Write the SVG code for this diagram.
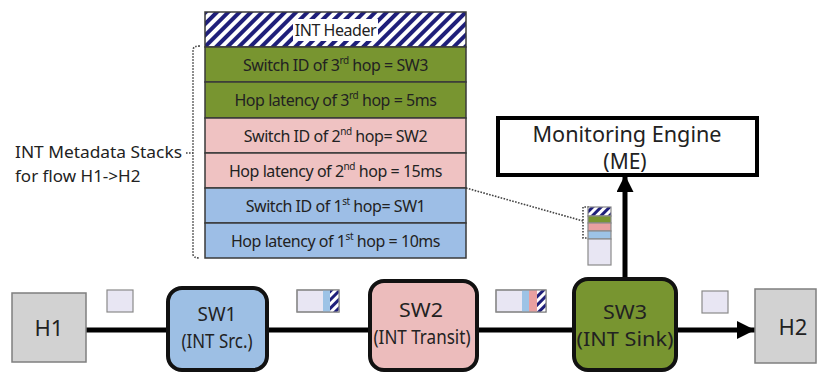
<svg xmlns="http://www.w3.org/2000/svg" width="818" height="372" viewBox="0 0 818 372">
<defs>
<pattern id="hatch" width="8" height="8" patternUnits="userSpaceOnUse" patternTransform="rotate(45)">
<rect width="8" height="8" fill="#ffffff"/>
<rect width="4" height="8" fill="#1f1f7a"/>
</pattern>
<pattern id="hatchS" width="6" height="6" patternUnits="userSpaceOnUse" patternTransform="rotate(45)">
<rect width="6" height="6" fill="#ffffff"/>
<rect width="3" height="6" fill="#1f1f7a"/>
</pattern>
<marker id="arr" viewBox="0 0 10 10" refX="10" refY="5" markerWidth="3.6" markerHeight="3.6" markerUnits="strokeWidth" orient="auto">
<path d="M0,0 L10,5 L0,10 z" fill="#000"/>
</marker>
<marker id="arrUp" viewBox="0 0 10 10" refX="10" refY="5" markerWidth="3.6" markerHeight="3.4" markerUnits="strokeWidth" orient="auto">
<path d="M0,0 L10,5 L0,10 z" fill="#000"/>
</marker>
</defs>
<style>
.t{font-family:"Noto Sans","Open Sans","DejaVu Sans",sans-serif;fill:#222;}
.row{font-size:16px;text-anchor:middle;letter-spacing:-0.45px;}
.sup{font-size:10px;}
.node{stroke:#111;stroke-width:4;}
.host{fill:#d2d2d2;stroke:#7f7f7f;stroke-width:1.5;}
.pk{stroke:#8a8a8a;stroke-width:1.2;}
.cell{stroke:#3a3a3a;stroke-width:1.5;}
.dot{fill:none;stroke:#444;stroke-width:1.6;stroke-dasharray:1.6 1.4;}
.link{stroke:#000;stroke-width:5;fill:none;}
.lab{font-size:22px;text-anchor:middle;}
.nl{font-size:19.5px;text-anchor:middle;}
</style>
<rect width="818" height="372" fill="#ffffff"/>

<g id="connectors">
<line class="link" x1="86" y1="330" x2="168" y2="330"/>
<line class="link" x1="267" y1="330" x2="370" y2="330"/>
<line class="link" x1="477" y1="330" x2="574" y2="330"/>
<line class="link" x1="676" y1="330" x2="755" y2="330" marker-end="url(#arr)"/>
<line class="link" x1="625" y1="279" x2="625" y2="175" marker-end="url(#arrUp)"/>
<path class="dot" d="M200,46 Q193,46 193,50 L193,254 Q193,258 200,258"/>
<line class="dot" x1="186" y1="153" x2="193" y2="153"/>
<path class="dot" d="M466,188 L583,221"/>
<path class="dot" d="M589,207 L583,207 L583,238 L589,238"/>
</g>

<g id="int-stack">
<rect x="205" y="12" width="261" height="35" fill="url(#hatch)" class="cell"/>
<rect x="293" y="19" width="85" height="22" fill="#ffffff"/>
<text class="t row" x="335.5" y="36">INT Header</text>
<rect x="205" y="47" width="261" height="35" fill="#789530" class="cell"/>
<text class="t row" x="335.5" y="71">Switch ID of 3<tspan class="sup" dy="-7">rd</tspan><tspan dy="7"> hop = SW3</tspan></text>
<rect x="205" y="82" width="261" height="36" fill="#789530" class="cell"/>
<text class="t row" x="335.5" y="106">Hop latency of 3<tspan class="sup" dy="-7">rd</tspan><tspan dy="7"> hop = 5ms</tspan></text>
<rect x="205" y="118" width="261" height="35" fill="#efc2c2" class="cell"/>
<text class="t row" x="335.5" y="142">Switch ID of 2<tspan class="sup" dy="-7">nd</tspan><tspan dy="7"> hop= SW2</tspan></text>
<rect x="205" y="153" width="261" height="35" fill="#efc2c2" class="cell"/>
<text class="t row" x="335.5" y="177">Hop latency of 2<tspan class="sup" dy="-7">nd</tspan><tspan dy="7"> hop = 15ms</tspan></text>
<rect x="205" y="188" width="261" height="35" fill="#9dbee6" class="cell"/>
<text class="t row" x="335.5" y="212">Switch ID of 1<tspan class="sup" dy="-7">st</tspan><tspan dy="7"> hop= SW1</tspan></text>
<rect x="205" y="223" width="261" height="35" fill="#9dbee6" class="cell"/>
<text class="t row" x="335.5" y="247">Hop latency of 1<tspan class="sup" dy="-7">st</tspan><tspan dy="7"> hop = 10ms</tspan></text>
</g>

<g id="stack-label">
<text class="t" x="15" y="158" font-size="17" textLength="167" lengthAdjust="spacingAndGlyphs">INT Metadata Stacks</text>
<text class="t" x="15" y="182" font-size="17">for flow H1-&gt;H2</text>
</g>

<g id="me">
<rect x="498" y="118" width="259" height="57" fill="#ffffff" stroke="#000" stroke-width="4"/>
<text class="t" x="627" y="142" font-size="21" text-anchor="middle" textLength="189" lengthAdjust="spacingAndGlyphs">Monitoring Engine</text>
<text class="t" x="625" y="169" font-size="21" text-anchor="middle">(ME)</text>
</g>

<g id="sink-packet">
<rect x="588" y="207" width="23" height="9" fill="url(#hatchS)" class="pk"/>
<rect x="588" y="216" width="23" height="7" fill="#789530" class="pk"/>
<rect x="588" y="223" width="23" height="8" fill="#e8a0a0" class="pk"/>
<rect x="588" y="231" width="23" height="8" fill="#9dc3e6" class="pk"/>
<rect x="588" y="239" width="23" height="26" fill="#e8e6f3" class="pk"/>
</g>

<g id="h1">
<rect class="host" x="12" y="293" width="74" height="69"/>
<text class="t lab" x="49" y="336">H1</text>
</g>

<g id="pkt1">
<rect x="107" y="290" width="26" height="22" fill="#e8e6f3" class="pk"/>
</g>

<g id="sw1">
<rect class="node" x="168" y="288" width="99" height="82" rx="14" fill="#9dbfe4"/>
<text class="t nl" x="217" y="321" textLength="39" lengthAdjust="spacingAndGlyphs">SW1</text>
<text class="t nl" x="217" y="348" textLength="71" lengthAdjust="spacingAndGlyphs">(INT Src.)</text>
</g>

<g id="pkt2">
<rect x="297" y="290" width="42" height="22" fill="#e8e6f3" class="pk"/>
<rect x="323" y="290" width="7" height="22" fill="#9dc3e6" stroke="none"/>
<rect x="330" y="290" width="9" height="22" fill="url(#hatchS)" stroke="none"/>
<rect x="297" y="290" width="42" height="22" fill="none" class="pk"/>
</g>

<g id="sw2">
<rect class="node" x="370" y="281" width="107" height="89" rx="14" fill="#ecbcbc"/>
<text class="t nl" x="421" y="317" textLength="44" lengthAdjust="spacingAndGlyphs">SW2</text>
<text class="t nl" x="422" y="344" textLength="97" lengthAdjust="spacingAndGlyphs">(INT Transit)</text>
</g>

<g id="pkt3">
<rect x="496" y="290" width="50" height="22" fill="#e8e6f3" class="pk"/>
<rect x="522" y="290" width="7" height="22" fill="#9dc3e6" stroke="none"/>
<rect x="529" y="290" width="8" height="22" fill="#e8a0a0" stroke="none"/>
<rect x="537" y="290" width="9" height="22" fill="url(#hatchS)" stroke="none"/>
<rect x="496" y="290" width="50" height="22" fill="none" class="pk"/>
</g>

<g id="sw3">
<rect class="node" x="574" y="279" width="102" height="91" rx="14" fill="#789530"/>
<text class="t nl" x="625" y="319" textLength="44" lengthAdjust="spacingAndGlyphs">SW3</text>
<text class="t nl" x="625" y="346" textLength="97" lengthAdjust="spacingAndGlyphs">(INT Sink)</text>
</g>

<g id="pkt4">
<rect x="702" y="291" width="26" height="22" fill="#e8e6f3" class="pk"/>
</g>

<g id="h2">
<rect class="host" x="755" y="289" width="61" height="74"/>
<text class="t lab" x="793" y="335">H2</text>
</g>
</svg>
